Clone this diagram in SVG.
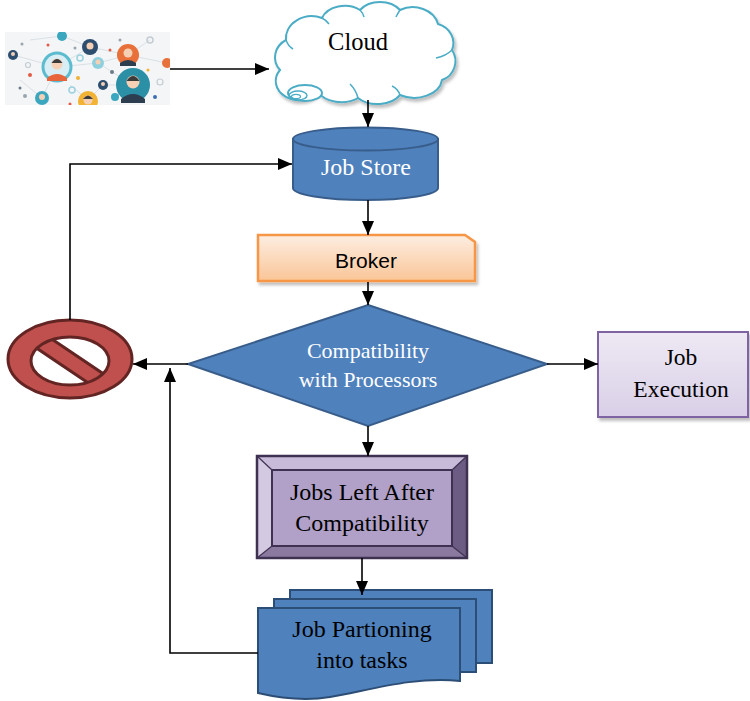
<svg xmlns="http://www.w3.org/2000/svg" width="750" height="701" viewBox="0 0 750 701">
  <defs>
    <style>
      .conn { fill: none; stroke: #000; stroke-width: 1.6; }
      .serif { font-family: "Liberation Serif", "Times New Roman", serif; text-anchor: middle; }
      .sans { font-family: "Liberation Sans", Arial, sans-serif; text-anchor: middle; }
      .blue { fill: #4F81BD; stroke: #385D8A; stroke-width: 2; }
      .doc { fill: #4F81BD; stroke: #2C4D75; stroke-width: 2; }
      .net { stroke: #D3DAE0; stroke-width: 0.8; fill: none; }
      .skin { fill: #F5D0B5; }
      .hair { fill: #3B3B3B; }
    </style>
    <marker id="ah" viewBox="0 0 14 12" refX="14" refY="6" markerWidth="14" markerHeight="12" markerUnits="userSpaceOnUse" orient="auto">
      <path d="M0,0 L14,6 L0,12 z" fill="#000"/>
    </marker>
    <filter id="shadow" x="-10%" y="-10%" width="125%" height="135%">
      <feDropShadow dx="2" dy="3" stdDeviation="1.5" flood-color="#000" flood-opacity="0.25"/>
    </filter>
    <linearGradient id="gBroker" x1="0" y1="0" x2="0" y2="1">
      <stop offset="0" stop-color="#FDEEE2"/>
      <stop offset="1" stop-color="#FAC597"/>
    </linearGradient>
    <linearGradient id="gExec" x1="0" y1="0" x2="0" y2="1">
      <stop offset="0" stop-color="#EEE9F4"/>
      <stop offset="1" stop-color="#D9CFE7"/>
    </linearGradient>
    <clipPath id="picClip"><rect x="5" y="32" width="165" height="73"/></clipPath>
    <clipPath id="holeClip"><ellipse cx="70" cy="361" rx="39" ry="24"/></clipPath>
  </defs>

  <!-- people network picture -->
  <g id="people" clip-path="url(#picClip)">
    <rect x="5" y="32" width="165" height="73" fill="#F3F5F7"/>
    <path class="net" d="M13,55 L57,67 L90,47 L128,55 L167,63 M57,67 L98,63 L133,85 M62,36 L90,47 M98,63 L128,55 M42,98 L57,67 M88,100 L103,85 L133,85 M115,97 L133,85 M20,80 L42,98 M30,40 L62,36 M150,40 L128,55 M70,85 L88,100"/>
    <!-- small dots -->
    <g>
      <circle cx="22" cy="44" r="1.5" fill="#9AA4AE"/>
      <circle cx="30" cy="75" r="2" fill="#E25B45"/>
      <circle cx="20" cy="88" r="1.5" fill="#6B7A88"/>
      <circle cx="48" cy="45" r="1.5" fill="#E25B45"/>
      <circle cx="75" cy="48" r="1.5" fill="#9AA4AE"/>
      <circle cx="78" cy="78" r="2" fill="#F2B233"/>
      <circle cx="72" cy="90" r="3" fill="none" stroke="#9BD2E0" stroke-width="1.5"/>
      <circle cx="110" cy="50" r="1.5" fill="#E25B45"/>
      <circle cx="112" cy="72" r="2" fill="#6B7A88"/>
      <circle cx="150" cy="40" r="3" fill="none" stroke="#C5CDD4" stroke-width="1.5"/>
      <circle cx="148" cy="70" r="1.5" fill="#F2B233"/>
      <circle cx="160" cy="82" r="3" fill="none" stroke="#C5CDD4" stroke-width="1.2"/>
      <circle cx="155" cy="97" r="2" fill="#3B6FB0"/>
      <circle cx="28" cy="65" r="2.5" fill="none" stroke="#C5CDD4" stroke-width="1.2"/>
      <circle cx="25" cy="96" r="2" fill="#9AA4AE"/>
      <circle cx="70" cy="104" r="1.5" fill="#E25B45"/>
      <circle cx="120" cy="40" r="1.5" fill="#9AA4AE"/>
      <circle cx="80" cy="58" r="3" fill="none" stroke="#9BD2E0" stroke-width="1.5"/>
    </g>
    <!-- avatars -->
    <g>
      <circle cx="57" cy="67" r="14" fill="#D9EEF4" stroke="#5BBCD0" stroke-width="3"/>
      <path d="M47,78 Q57,70 67,78 L67,81 L47,81 Z" fill="#E8643A"/>
      <circle cx="57" cy="64" r="5.5" class="skin"/>
      <path d="M51.5,63 Q57,55 62.5,63 Z" class="hair"/>
    </g>
    <g>
      <circle cx="133" cy="85" r="17" fill="#2B8FA6"/>
      <path d="M121,99 Q133,89 145,99 L145,103 L121,103 Z" fill="#2C3E50"/>
      <circle cx="133" cy="82" r="6.5" class="skin"/>
      <path d="M126.5,81 Q133,71 139.5,81 Z" class="hair"/>
    </g>
    <g>
      <circle cx="128" cy="55" r="11" fill="#E8703A"/>
      <path d="M120,63 Q128,57 136,63 L136,66 L120,66 Z" fill="#2C3E50"/>
      <circle cx="128" cy="53" r="4.5" class="skin"/>
    </g>
    <g>
      <circle cx="90" cy="47" r="8" fill="#2D4E6E"/>
      <circle cx="90" cy="46" r="3.5" class="skin"/>
    </g>
    <circle cx="98" cy="63" r="6" fill="#8FD0DF"/>
    <circle cx="98" cy="62" r="2.5" class="skin"/>
    <circle cx="62" cy="36" r="5" fill="#3BA7BF"/>
    <circle cx="13" cy="55" r="5" fill="#2D4E6E"/>
    <circle cx="13" cy="54" r="2" class="skin"/>
    <g>
      <circle cx="88" cy="101" r="10" fill="#F2B233"/>
      <circle cx="88" cy="100" r="4.5" class="skin"/>
      <path d="M83,99 Q88,92 93,99 Z" class="hair"/>
    </g>
    <circle cx="42" cy="98" r="7" fill="#3BA7BF"/>
    <circle cx="42" cy="97" r="3" class="skin"/>
    <circle cx="103" cy="85" r="5" fill="#2D4E6E"/>
    <circle cx="103" cy="84" r="2" class="skin"/>
    <circle cx="167" cy="63" r="5" fill="#E8703A"/>
    <circle cx="115" cy="97" r="4" fill="#3BA7BF"/>
  </g>

  <!-- cloud -->
  <g id="cloud">
    <path filter="url(#shadow)" d="M280,70 A22,20 0 0 1 286,40 A26,22 0 0 1 322,18 A24,18 0 0 1 360,10 A24,18 0 0 1 400,10 A26,22 0 0 1 438,24 A22,20 0 0 1 452,50 A20,20 0 0 1 442,80 A28,20 0 0 1 400,95 A26,18 0 0 1 358,98 A26,18 0 0 1 318,92 A22,18 0 0 1 280,70 Z" fill="#FFFFFF" stroke="#4BACC6" stroke-width="2"/>
    <g fill="none" stroke="#4BACC6" stroke-width="1.5">
      <path d="M286,40 Q288,46 293,49"/>
      <path d="M322,18 Q326,20 329,24"/>
      <path d="M360,10 Q363,13 364,17"/>
      <path d="M400,10 Q398,13 396,17"/>
      <path d="M452,50 Q446,56 436,58"/>
      <path d="M358,98 Q356,90 350,84"/>
      <path d="M400,95 Q398,89 392,86"/>
    </g>
    <ellipse cx="305" cy="93" rx="17" ry="8" fill="#FFFFFF" stroke="#4BACC6" stroke-width="2"/>
    <ellipse cx="298" cy="95.5" rx="9" ry="4.5" fill="none" stroke="#4BACC6" stroke-width="1.5"/>
    <ellipse cx="296" cy="96.5" rx="4.5" ry="2.2" fill="none" stroke="#4BACC6" stroke-width="1.2"/>
    <text class="serif" x="358" y="50" font-size="24.5" fill="#000">Cloud</text>
  </g>

  <!-- job store -->
  <g id="jobstore">
    <path class="blue" d="M293,139 V188 A72.5,12 0 0 0 438,188 V139 Z"/>
    <ellipse class="blue" cx="365.5" cy="139" rx="72.5" ry="11.5"/>
    <text class="serif" x="366" y="175" font-size="24" fill="#FFFFFF">Job Store</text>
  </g>

  <!-- broker -->
  <g id="broker">
    <path filter="url(#shadow)" d="M258,235 H465 L475,242 V281 H258 Z" fill="url(#gBroker)" stroke="#F79646" stroke-width="2.5"/>
    <text class="sans" x="366" y="268" font-size="21" fill="#000">Broker</text>
  </g>

  <!-- compatibility decision -->
  <g id="decision">
    <path class="blue" d="M368,305 L547,364 L368,426 L188,364 Z"/>
    <text class="serif" x="368" y="358" font-size="22" fill="#FFFFFF">Compatibility</text>
    <text class="serif" x="368" y="387" font-size="22" fill="#FFFFFF">with Processors</text>
  </g>

  <!-- job execution -->
  <g id="execution">
    <rect filter="url(#shadow)" x="598" y="332" width="150" height="85" fill="url(#gExec)" stroke="#8064A2" stroke-width="2"/>
    <text class="serif" x="681" y="365" font-size="23.5" fill="#000">Job</text>
    <text class="serif" x="681" y="397" font-size="23.5" fill="#000">Execution</text>
  </g>

  <!-- rejected: prohibition sign -->
  <g id="rejected">
    <ellipse cx="70" cy="359" rx="62" ry="39" fill="#C0504D" stroke="#632523" stroke-width="3"/>
    <ellipse cx="70" cy="361" rx="39" ry="24" fill="#FFFFFF"/>
    <g clip-path="url(#holeClip)">
      <rect x="-60" y="-8" width="120" height="16" transform="translate(70,361) rotate(34)" fill="#C0504D" stroke="#632523" stroke-width="3"/>
    </g>
    <ellipse cx="70" cy="361" rx="39" ry="24" fill="none" stroke="#632523" stroke-width="3"/>
  </g>

  <!-- jobs left after compatibility (bevel) -->
  <g id="jobsleft">
    <polygon points="257,456 467,456 452,470 272,470" fill="#C8BBDA"/>
    <polygon points="257,456 272,470 272,546 257,558" fill="#D3C9E1"/>
    <polygon points="467,456 467,558 452,546 452,470" fill="#6C5B82"/>
    <polygon points="257,558 272,546 452,546 467,558" fill="#8B79A0"/>
    <rect x="272" y="470" width="180" height="76" fill="#B1A0C7"/>
    <g stroke="#3F3151" stroke-width="1.2" fill="none">
      <path d="M257,456 L272,470 M467,456 L452,470 M257,558 L272,546 M467,558 L452,546"/>
    </g>
    <rect x="272" y="470" width="180" height="76" fill="none" stroke="#3F3151" stroke-width="2"/>
    <rect x="257" y="456" width="210" height="102" fill="none" stroke="#3F3151" stroke-width="2.5"/>
    <text class="serif" x="362" y="500" font-size="24" fill="#000">Jobs Left After</text>
    <text class="serif" x="362" y="531" font-size="24" fill="#000">Compatibility</text>
  </g>

  <!-- job partitioning (multi-document) -->
  <g id="partitioning">
    <path class="doc" d="M290,590 H492 V663 H290 Z"/>
    <path class="doc" d="M274,599 H476 V672 H274 Z"/>
    <path class="doc" d="M258,608 H460 V681 C415,676 370,690 330,697 C300,702 275,697 258,693 Z"/>
    <text class="serif" x="362" y="637" font-size="24" fill="#000">Job Partioning</text>
    <text class="serif" x="362" y="668" font-size="24" fill="#000">into tasks</text>
  </g>

  <!-- connectors -->
  <g id="connectors">
    <path class="conn" d="M170,69 H269" marker-end="url(#ah)"/>
    <path class="conn" d="M368,100 V127" marker-end="url(#ah)"/>
    <path class="conn" d="M368,200 V235" marker-end="url(#ah)"/>
    <path class="conn" d="M368,282 V305" marker-end="url(#ah)"/>
    <path class="conn" d="M547,364 H598" marker-end="url(#ah)"/>
    <path class="conn" d="M188,364 H133" marker-end="url(#ah)"/>
    <path class="conn" d="M368,426 V456" marker-end="url(#ah)"/>
    <path class="conn" d="M362,558 V595" marker-end="url(#ah)"/>
    <path class="conn" d="M258,653 H170 V368" marker-end="url(#ah)"/>
    <path class="conn" d="M70,320 V164 H292" marker-end="url(#ah)"/>
  </g>
</svg>
